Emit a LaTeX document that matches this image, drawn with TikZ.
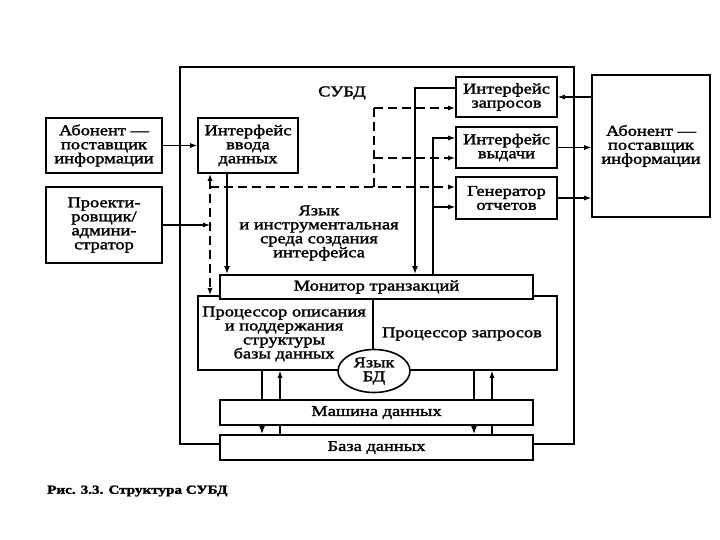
\documentclass[tikz,border=0pt]{standalone}
\usepackage{fontspec}
\setmainfont{Liberation Serif}[FakeStretch=1.23,FakeBold=1.8]
\usetikzlibrary{arrows.meta,shapes.geometric}
\pgfdeclarelayer{bg}
\pgfsetlayers{bg,main}
\newcommand\lblfont{\fontsize{15}{14}\selectfont}
\begin{document}
\begin{tikzpicture}[x=1pt,y=-1pt,
  box/.style={draw,line width=1.6pt,fill=white,inner sep=0pt,align=center,font=\lblfont},
  lbl/.style={inner sep=0pt,align=center,font=\lblfont},
  thn/.style={line width=1.1pt,-{Latex[length=7pt,width=5pt]}},
  thk/.style={line width=2.6pt,-{Latex[length=8pt,width=6pt]}},
  dsh/.style={line width=1.6pt,dash pattern=on 9pt off 5pt},
  dar/.style={-{Latex[length=7pt,width=5pt]}}]
\useasboundingbox (0,0) rectangle (720,540);
% outer DBMS frame
\node[draw,line width=1.6pt,minimum width=394,minimum height=377,inner sep=0pt] (subd) at (377,255.5) {};
\node[lbl] (subdl) at (342,93) {СУБД};
% right-side interfaces
\node[box,minimum width=101,minimum height=40] (zapr) at (506.5,97) {Интерфейс\\запросов};
\node[box,minimum width=101,minimum height=41] (vyd) at (506.5,147.5) {Интерфейс\\выдачи};
\node[box,minimum width=101,minimum height=42] (gen) at (506.5,198) {Генератор\\отчетов};
% input interface
\node[box,minimum width=100,minimum height=55] (vvod) at (248,145.5) {Интерфейс\\ввода\\данных};
% external actors
\node[box,minimum width=116,minimum height=55] (abon1) at (104,145.5) {Абонент —\\поставщик\\информации};
\node[box,minimum width=116,minimum height=76] (proekt) at (104,225) {Проекти-\\ровщик/\\админи-\\стратор};
\node[box,minimum width=118,minimum height=142] (abon2) at (651,146) {Абонент —\\поставщик\\информации};
% language text
\node[lbl] (yaz) at (319,233) {Язык\\и инструментальная\\среда создания\\интерфейса};
% processors
\node[box,minimum width=359,minimum height=74] (proc) at (377.5,333) {};
\coordinate (dvt) at (373,299);
\coordinate (dvb) at (373,370);
\draw[line width=1.6pt] (dvt) -- (dvb);
\node[lbl] (procl) at (284,334) {Процессор описания\\и поддержания\\структуры\\базы данных};
\node[lbl] (procr) at (462,334) {Процессор запросов};
\node[box,minimum width=313,minimum height=24] (monitor) at (376.5,287) {Монитор транзакций};
\node[draw,ellipse,line width=1.6pt,fill=white,inner sep=0pt,minimum width=72,minimum height=43,align=center,font=\lblfont] (yazbd) at (374,371) {Язык\\БД};
\node[box,minimum width=313,minimum height=25] (mash) at (376.5,412.5) {Машина данных};
\node[box,minimum width=313,minimum height=25] (bd) at (376.5,447.5) {База данных};
% caption
\node[anchor=west,inner sep=0pt,font=\fontsize{12.3}{14}\selectfont\bfseries] (cap) at (47,491) {Рис. 3.3. Структура СУБД};
% connectors
\coordinate (pj) at (210,225);
\coordinate (dh) at (210,187);
\coordinate (dv1) at (374,187);
\coordinate (dv2) at (374,108);
\coordinate (dv3) at (374,158);
\coordinate (tk) at (415,88);
\coordinate (tn1) at (433,138);
\coordinate (tn2) at (433,207);
\coordinate (vx) at (227,200);
\coordinate (b1) at (262,400);
\coordinate (b2) at (280,400);
\coordinate (b3) at (474,400);
\coordinate (b4) at (492,400);
\begin{pgfonlayer}{bg}
\draw[thn] (abon1.east) -- (vvod.west);
\draw[thn] (proekt.east |- pj) -- (pj);
\draw[dsh,{Latex[length=7pt,width=5pt]}-{Latex[length=7pt,width=5pt]}] (vvod.south -| pj) -- (proc.north -| pj);
\draw[dsh,dar] (dh) -- (dh -| gen.west);
\draw[dsh] (dv1) -- (dv2);
\draw[dsh,dar] (dv2) -- (dv2 -| zapr.west);
\draw[dsh,dar] (dv3) -- (dv3 -| vyd.west);
\draw[thk] (tk -| zapr.west) -- (tk) -- (tk |- monitor.north);
\draw[thn] (tn1 |- monitor.north) -- (tn1) -- (tn1 -| vyd.west);
\draw[thn] (tn2) -- (tn2 -| gen.west);
\draw[thk] (vvod.south -| vx) -- (monitor.north -| vx);
\draw[thn] (abon2.west |- zapr.east) -- (zapr.east);
\draw[thn] (vyd.east) -- (vyd.east -| abon2.west);
\draw[thn] (gen.east) -- (gen.east -| abon2.west);
\draw[thk] (proc.south -| b1) -- (bd.north -| b1);
\draw[thn] (bd.north -| b2) -- (proc.south -| b2);
\draw[thk] (proc.south -| b3) -- (bd.north -| b3);
\draw[thn] (bd.north -| b4) -- (proc.south -| b4);
\end{pgfonlayer}
\end{tikzpicture}
\end{document}
